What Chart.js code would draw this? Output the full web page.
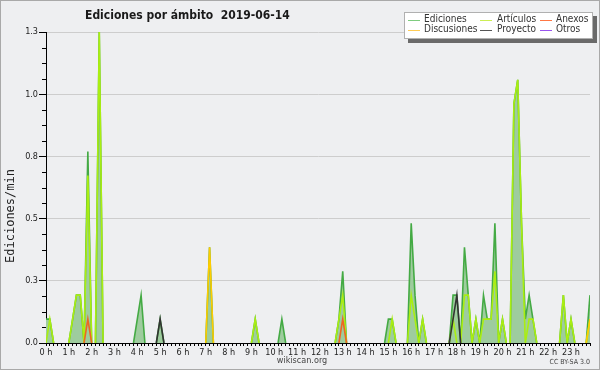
<!DOCTYPE html>
<html>
<head>
<meta charset="utf-8">
<script src="https://cdn.jsdelivr.net/npm/chart.js@4/dist/chart.umd.min.js"></script>
<style>
html,body{margin:0;padding:0;background:#eeeff1;}
#wrap{width:600px;height:370px;}
</style>
</head>
<body>
<div id="wrap"><canvas id="c" width="600" height="370"></canvas></div>
<script>
// ---- data: 10-minute bins, edits per minute ----
const chartTitle = 'Ediciones por ámbito  2019-06-14';
const yAxisTitle = 'Ediciones/min';
const xTickLabels = ['0 h','1 h','2 h','3 h','4 h','5 h','6 h','7 h','8 h','9 h','10 h','11 h',
  '12 h','13 h','14 h','15 h','16 h','17 h','18 h','19 h','20 h','21 h','22 h','23 h'];
const yTickLabels = ['0.0','0.3','0.5','0.8','1.0','1.3'];
const seriesNames = ['Ediciones','Artículos','Anexos','Discusiones','Proyecto','Otros'];

const ediciones = [
  0.1,0.1,0,0,0,0,0,0.1,0.2,0.2,0,0.8,
  0,0,1.3,0,0,0,0,0,0,0,0,0,
  0.1,0.2,0,0,0,0,0.1,0,0,0,0,0,
  0,0,0,0,0,0,0,0.4,0,0,0,0,
  0,0,0,0,0,0,0,0.1,0,0,0,0,
  0,0,0.1,0,0,0,0,0,0,0,0,0,
  0,0,0,0,0,0.1,0.3,0,0,0,0,0,
  0,0,0,0,0,0,0.1,0.1,0,0,0,0,
  0.5,0.2,0,0.1,0,0,0,0,0,0,0,0.2,
  0.2,0,0.4,0.2,0,0.1,0,0.2,0.1,0.1,0.5,0,
  0.1,0,0,1.0,1.1,0.5,0.1,0.2,0.1,0,0,0,
  0,0,0,0,0.2,0,0.1,0,0,0,0,0.2
];
const articulos = [
  0,0.1,0,0,0,0,0,0.1,0.2,0.2,0,0.7,
  0,0,1.3,0,0,0,0,0,0,0,0,0,
  0,0,0,0,0,0,0,0,0,0,0,0,
  0,0,0,0,0,0,0,0,0,0,0,0,
  0,0,0,0,0,0,0,0.1,0,0,0,0,
  0,0,0,0,0,0,0,0,0,0,0,0,
  0,0,0,0,0,0.1,0.2,0,0,0,0,0,
  0,0,0,0,0,0,0,0.1,0,0,0,0,
  0.2,0.1,0,0.1,0,0,0,0,0,0,0,0.1,
  0,0,0.2,0.2,0,0.1,0,0.1,0.1,0.1,0.3,0,
  0.1,0,0,1.0,1.1,0.5,0,0.1,0.1,0,0,0,
  0,0,0,0,0.2,0,0.1,0,0,0,0,0.1
];
const anexos = [
  0,0,0,0,0,0,0,0,0,0,0,0.1,
  0,0,0,0,0,0,0,0,0,0,0,0,
  0,0,0,0,0,0,0,0,0,0,0,0,
  0,0,0,0,0,0,0,0,0,0,0,0,
  0,0,0,0,0,0,0,0,0,0,0,0,
  0,0,0,0,0,0,0,0,0,0,0,0,
  0,0,0,0,0,0,0.1,0,0,0,0,0,
  0,0,0,0,0,0,0,0,0,0,0,0,
  0,0,0,0,0,0,0,0,0,0,0,0,
  0,0,0,0,0,0,0,0,0,0,0,0,
  0,0,0,0,0,0,0,0,0,0,0,0,
  0,0,0,0,0,0,0,0,0,0,0,0
];
const discusiones = [
  0,0,0,0,0,0,0,0,0,0,0,0,
  0,0,0,0,0,0,0,0,0,0,0,0,
  0,0,0,0,0,0,0,0,0,0,0,0,
  0,0,0,0,0,0,0,0.4,0,0,0,0,
  0,0,0,0,0,0,0,0,0,0,0,0,
  0,0,0,0,0,0,0,0,0,0,0,0,
  0,0,0,0,0,0,0,0,0,0,0,0,
  0,0,0,0,0,0,0,0,0,0,0,0,
  0,0,0,0,0,0,0,0,0,0,0,0,
  0,0,0,0,0,0,0,0,0,0,0,0,
  0,0,0,0,0,0,0,0,0,0,0,0,
  0,0,0,0,0,0,0,0,0,0,0,0.1
];
const proyecto = [
  0,0,0,0,0,0,0,0,0,0,0,0,
  0,0,0,0,0,0,0,0,0,0,0,0,
  0,0,0,0,0,0,0.1,0,0,0,0,0,
  0,0,0,0,0,0,0,0,0,0,0,0,
  0,0,0,0,0,0,0,0,0,0,0,0,
  0,0,0,0,0,0,0,0,0,0,0,0,
  0,0,0,0,0,0,0,0,0,0,0,0,
  0,0,0,0,0,0,0,0,0,0,0,0,
  0,0,0,0,0,0,0,0,0,0,0,0.1,
  0.2,0,0,0,0,0,0,0,0,0,0,0,
  0,0,0,0,0,0,0,0,0,0,0,0,
  0,0,0,0,0,0,0,0,0,0,0,0
];
const otros = new Array(144).fill(0);

const lineColors = ['#44aa44','#aaee11','#ee6622','#ffcc00','#333333','#8844ee'];
const legendColors = ['#7fcc7f','#ccee55','#ff7744','#ffcc55','#555555','#9955ee'];
const FONT = '"DejaVu Sans Condensed", "Liberation Sans Narrow", "DejaVu Sans", sans-serif';

const allSeries = [ediciones, articulos, anexos, discusiones, proyecto, otros];
const drawOrder = [10, 9, 2, 3, 1, 0];

function hideFlat(color){
  return ctx => (ctx.p0.parsed.y === 0 && ctx.p1.parsed.y === 0) ? 'rgba(0,0,0,0)' : color;
}

const datasets = allSeries.map((arr, i) => ({
  label: seriesNames[i],
  data: arr.map((v, k) => ({x: k, y: v})),
  borderColor: lineColors[i],
  backgroundColor: '#9ecc9e',
  borderWidth: 1.6,
  pointRadius: 0,
  tension: 0,
  fill: i === 0 ? 'origin' : false,
  order: drawOrder[i],
  segment: { borderColor: hideFlat(lineColors[i]) }
}));

const decor = {
  id: 'decor',
  beforeDraw(chart){
    const c = chart.ctx;
    c.save();
    c.fillStyle = '#eeeff1';
    c.fillRect(0, 0, 600, 370);
    c.strokeStyle = '#a9a9a9';
    c.lineWidth = 1;
    c.strokeRect(0.5, 0.5, 599, 369);
    c.restore();
  },
  afterDraw(chart){
    const c = chart.ctx;
    c.save();
    // minor y ticks (shorter than the major ones)
    const ys = chart.scales.y;
    c.strokeStyle = '#000';
    c.lineWidth = 1;
    ys.ticks.forEach((t, i) => {
      if (i % 4 === 0) return;
      const py = Math.round(ys.getPixelForValue(t.value)) + 0.5;
      c.beginPath();
      c.moveTo(ys.right - 4, py);
      c.lineTo(ys.right, py);
      c.stroke();
    });
    // title
    c.fillStyle = '#1a1a1a';
    c.font = 'bold 12px ' + FONT;
    c.textBaseline = 'alphabetic';
    c.textAlign = 'left';
    c.fillText(chartTitle, 85, 18.5);
    // y axis title
    c.save();
    c.translate(11, 216);
    c.rotate(-Math.PI / 2);
    c.font = '12px "DejaVu Sans Mono", monospace';
    c.textAlign = 'center';
    c.textBaseline = 'middle';
    c.fillStyle = '#222';
    c.fillText(yAxisTitle, 0, 0);
    c.restore();
    // legend box
    c.fillStyle = '#6a6a6a';
    c.fillRect(408, 16, 189, 27);
    c.fillStyle = '#ffffff';
    c.fillRect(404, 12, 189, 27);
    c.strokeStyle = '#b0b0b0';
    c.strokeRect(404.5, 12.5, 188, 26);
    const colX = [408, 480, 540];
    const txtX = [424, 497, 556];
    const rowY = [19.5, 29.5];
    c.font = '10px ' + FONT;
    c.textBaseline = 'middle';
    c.textAlign = 'left';
    seriesNames.forEach((n, i) => {
      const r = Math.floor(i / 3), col = i % 3;
      c.strokeStyle = legendColors[i];
      c.lineWidth = 1;
      c.beginPath();
      c.moveTo(colX[col], Math.round(rowY[r]) + 0.5);
      c.lineTo(colX[col] + 12, Math.round(rowY[r]) + 0.5);
      c.stroke();
      c.fillStyle = '#333';
      c.fillText(n, txtX[col], rowY[r]);
    });
    // footer
    c.fillStyle = '#444';
    c.font = '9px ' + FONT;
    c.textAlign = 'center';
    c.fillText('wikiscan.org', 302, 361);
    c.font = '7px ' + FONT;
    c.textAlign = 'right';
    c.fillText('CC BY-SA 3.0', 590, 362);
    c.restore();
  }
};

const yMax = 1.3;
new Chart(document.getElementById('c'), {
  type: 'line',
  data: { datasets },
  options: {
    responsive: false,
    animation: false,
    devicePixelRatio: 1,
    layout: { padding: { top: 32, right: 10, left: 0, bottom: 0 } },
    plugins: {
      legend: { display: false },
      title: { display: false },
      tooltip: { enabled: false },
      filler: { drawTime: 'beforeDatasetsDraw' }
    },
    scales: {
      x: {
        type: 'linear',
        min: 0, max: 143,
        afterBuildTicks(scale){
          scale.ticks = ediciones.map((_, k) => ({ value: k }));
        },
        afterFit(scale){ scale.height = 27; },
        border: { display: true, color: '#000', width: 1 },
        grid: { drawOnChartArea: false, color: '#000', tickLength: 3, tickWidth: 1 },
        ticks: {
          autoSkip: false, maxRotation: 0, padding: 1,
          color: '#222',
          font: { size: 9, family: FONT },
          callback: (v) => (v % 6 === 0) ? xTickLabels[v / 6] : ''
        }
      },
      y: {
        type: 'linear',
        min: 0, max: yMax,
        afterBuildTicks(scale){
          scale.ticks = Array.from({ length: 21 }, (_, i) => ({ value: i * yMax / 20 }));
        },
        afterFit(scale){ scale.width = 46; },
        border: { display: true, color: '#000', width: 1 },
        grid: {
          color: (ctx) => (ctx.index % 4 === 0 && ctx.index > 0) ? '#cdcdcd' : 'rgba(0,0,0,0)',
          tickColor: (ctx) => (ctx.index % 4 === 0) ? '#000' : 'rgba(0,0,0,0)',
          tickLength: 7
        },
        ticks: {
          padding: 1,
          color: '#222',
          font: { size: 9, family: FONT },
          callback: (v, i) => (i % 4 === 0) ? yTickLabels[i / 4] : ''
        }
      }
    }
  },
  plugins: [decor]
});
</script>
</body>
</html>
